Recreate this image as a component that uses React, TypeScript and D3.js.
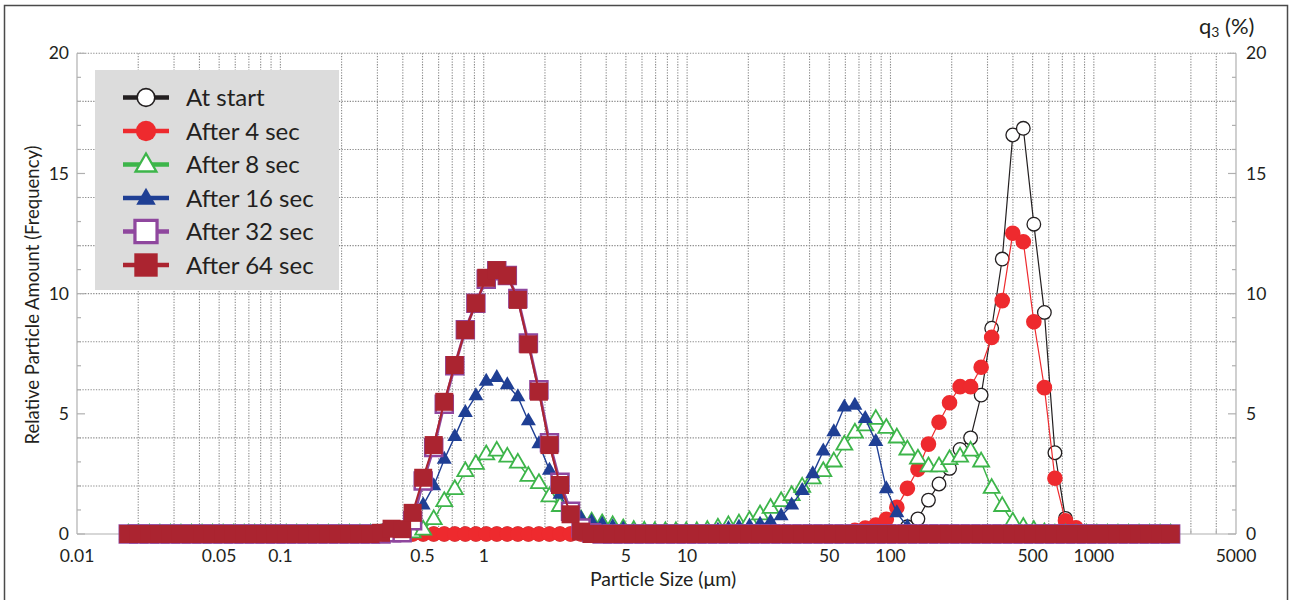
import React from "react";
import * as d3 from "d3";

// particle size classes (µm), shared by every series
const sizeBins = [
  0.01787, 0.02013, 0.02269, 0.02556, 0.0288, 0.03245, 0.03656, 0.04119, 0.04641, 0.05229,
  0.05892, 0.06638, 0.0748, 0.08427, 0.09495, 0.1068, 0.1204, 0.1356, 0.1528, 0.1721,
  0.194, 0.2185, 0.2462, 0.2774, 0.3126, 0.3522, 0.3969, 0.4471, 0.5038, 0.5676,
  0.6396, 0.7206, 0.8119, 0.9148, 1.0287, 1.159, 1.3059, 1.4714, 1.6578, 1.8679,
  2.1046, 2.3713, 2.6718, 3.0104, 3.3919, 3.8217, 4.306, 4.8517, 5.4665, 6.1592,
  6.9397, 7.8191, 8.81, 9.9063, 11.162, 12.575, 14.169, 15.965, 17.988, 20.267,
  22.836, 25.73, 28.991, 32.665, 36.804, 41.468, 46.724, 52.645, 59.316, 66.833,
  75.164, 84.69, 95.4, 107.47, 121.1, 136.44, 153.73, 173.21, 195.16, 219.89,
  247.75, 279.15, 314.52, 354.38, 399.29, 449.88, 506.89, 571.13, 643.5, 725.05,
  816.93, 920.45, 1035, 1166, 1313.7, 1480.2, 1667.8, 1879.1, 2117.2, 2385.4,
];

// q3 (%) per size class
const atStart = [
  0, 0, 0, 0, 0, 0, 0, 0, 0, 0,
  0, 0, 0, 0, 0, 0, 0, 0, 0, 0,
  0, 0, 0, 0, 0, 0, 0, 0, 0, 0,
  0, 0, 0, 0, 0, 0, 0, 0, 0, 0,
  0, 0, 0, 0, 0, 0, 0, 0, 0, 0,
  0, 0, 0, 0, 0, 0, 0, 0, 0, 0,
  0, 0, 0, 0, 0, 0, 0, 0, 0, 0,
  0, 0, 0, 0, 0.3, 0.63, 1.41, 2.08, 2.73, 3.52,
  4.0, 5.78, 8.56, 11.44, 16.6, 16.88, 12.89, 9.22, 3.38, 0.65,
  0.1, 0, 0, 0, 0, 0, 0, 0, 0, 0,
];
const after4 = [
  0, 0, 0, 0, 0, 0, 0, 0, 0, 0,
  0, 0, 0, 0, 0, 0, 0, 0, 0, 0,
  0, 0, 0, 0, 0, 0, 0, 0, 0, 0,
  0, 0, 0, 0, 0, 0, 0, 0, 0, 0,
  0, 0, 0, 0, 0, 0, 0, 0, 0, 0,
  0, 0, 0, 0, 0, 0, 0, 0, 0, 0,
  0, 0, 0, 0, 0, 0, 0, 0, 0, 0.15,
  0.25, 0.37, 0.61, 1.11, 1.9, 2.69, 3.74, 4.65, 5.46, 6.13,
  6.13, 6.94, 8.18, 9.71, 12.51, 12.16, 8.83, 6.09, 2.32, 0.55,
  0.26, 0.05, 0, 0, 0, 0, 0, 0, 0, 0,
];
const after8 = [
  0, 0, 0, 0, 0, 0, 0, 0, 0, 0,
  0, 0, 0, 0, 0, 0, 0, 0, 0, 0,
  0, 0, 0, 0, 0, 0, 0, 0.05, 0.17, 0.6,
  1.35, 1.85, 2.6, 2.9, 3.3, 3.45, 3.2, 2.95, 2.4, 2.1,
  1.55, 1.15, 0.8, 0.58, 0.5, 0.43, 0.35, 0.22, 0.15, 0.12,
  0.1, 0.1, 0.1, 0.1, 0.1, 0.15, 0.25, 0.35, 0.42, 0.55,
  0.8, 1.07, 1.35, 1.6, 1.95, 2.3, 2.6, 3.0, 3.7, 4.2,
  4.5, 4.77, 4.4, 4.0, 3.5, 3.12, 2.8, 2.8, 3.1, 3.2,
  3.45, 3.0, 1.9, 1.15, 0.5, 0.28, 0.15, 0.05, 0, 0,
  0, 0, 0, 0, 0, 0, 0, 0, 0, 0,
];
const after16 = [
  0, 0, 0, 0, 0, 0, 0, 0, 0, 0,
  0, 0, 0, 0, 0, 0, 0, 0, 0, 0,
  0, 0, 0, 0, 0, 0, 0.2, 0.55, 1.2, 2.0,
  3.1, 4.05, 5.05, 5.75, 6.35, 6.5, 6.2, 5.7, 4.7, 3.75,
  2.65, 1.65, 0.85, 0.65, 0.5, 0.4, 0.3, 0.2, 0.1, 0.05,
  0.05, 0.05, 0.05, 0.05, 0.05, 0.08, 0.15, 0.22, 0.28, 0.33,
  0.4, 0.5, 0.75, 1.2, 1.8, 2.5, 3.45, 4.25, 5.28, 5.35,
  4.8, 3.84, 1.88, 0.88, 0.3, 0.05, 0, 0, 0, 0,
  0, 0, 0, 0, 0, 0, 0, 0, 0, 0,
  0, 0, 0, 0, 0, 0, 0, 0, 0, 0,
];
const after32 = [
  0, 0, 0, 0, 0, 0, 0, 0, 0, 0,
  0, 0, 0, 0, 0, 0, 0, 0, 0, 0,
  0, 0, 0, 0, 0, 0.05, 0.05, 0.55, 2.2, 3.6,
  5.4, 7.0, 8.5, 9.6, 10.6, 10.95, 10.75, 9.8, 7.95, 6.0,
  3.8, 2.15, 0.95, 0.25, 0.05, 0, 0, 0, 0, 0,
  0, 0, 0, 0, 0, 0, 0, 0, 0, 0,
  0, 0, 0, 0, 0, 0, 0, 0, 0, 0,
  0, 0, 0, 0, 0, 0, 0, 0, 0, 0,
  0, 0, 0, 0, 0, 0, 0, 0, 0, 0,
  0, 0, 0, 0, 0, 0, 0, 0, 0, 0,
];
const after64 = [
  0, 0, 0, 0, 0, 0, 0, 0, 0, 0,
  0, 0, 0, 0, 0, 0, 0, 0, 0, 0,
  0, 0, 0, 0, 0.05, 0.22, 0.2, 0.88, 2.34, 3.7,
  5.5, 7.03, 8.49, 9.6, 10.66, 10.98, 10.75, 9.74, 7.89, 5.92,
  3.7, 2.04, 0.82, 0.1, 0, 0, 0, 0, 0, 0,
  0, 0, 0, 0, 0, 0, 0, 0, 0, 0,
  0, 0, 0, 0, 0, 0, 0, 0, 0, 0,
  0, 0, 0, 0, 0, 0, 0, 0, 0, 0,
  0, 0, 0, 0, 0, 0, 0, 0, 0, 0,
  0, 0, 0, 0, 0, 0, 0, 0, 0, 0,
];

const seriesNames = ["At start", "After 4 sec", "After 8 sec", "After 16 sec", "After 32 sec", "After 64 sec"];
const xTickValues = [0.01, 0.05, 0.1, 0.5, 1, 5, 10, 50, 100, 500, 1000, 5000];
const yTickValues = [0, 5, 10, 15, 20];

const FONT = "Lato, 'Open Sans', sans-serif";
const TEXT = "#231f20";
const GRID = "#8c8c8c";
const AXIS = "#b0b0b0";

const series = [
  { name: seriesNames[0], values: atStart, color: "#231f20", shape: "circle", filled: false, lw: 1.2, size: 6.8, sw: 1.3 },
  { name: seriesNames[1], values: after4, color: "#ee2a2e", shape: "circle", filled: true, lw: 1.2, size: 7.8, sw: 0 },
  { name: seriesNames[2], values: after8, color: "#3db54a", shape: "triangle", filled: false, lw: 1.4, size: 16, sw: 1.8 },
  { name: seriesNames[3], values: after16, color: "#1f3f94", shape: "triangle", filled: true, lw: 1.4, size: 15, sw: 0 },
  { name: seriesNames[4], values: after32, color: "#8f479e", shape: "square", filled: false, lw: 3, size: 17, sw: 2.5 },
  { name: seriesNames[5], values: after64, color: "#ab2430", shape: "square", filled: true, lw: 2, size: 18, sw: 0 },
];

// size: radius for circles, side for triangles / squares
const markerPath = (shape: string, size: number) => {
  if (shape === "circle") return d3.symbol().type(d3.symbolCircle).size(Math.PI * size * size)()!;
  if (shape === "square") return d3.symbol().type(d3.symbolSquare).size(size * size)()!;
  return d3.symbol().type(d3.symbolTriangle).size((Math.sqrt(3) / 4) * size * size)()!;
};

const Marker = ({ s, cx, cy, scale = 1 }: any) => (
  <path
    d={markerPath(s.shape, s.size * scale)}
    transform={`translate(${cx},${cy})`}
    fill={s.filled ? s.color : "#fff"}
    stroke={s.filled ? "none" : s.color}
    strokeWidth={s.sw * (scale > 1 ? 1.3 : 1)}
  />
);

export default function App() {
  const width = 1290;
  const height = 600;
  const left = 77;
  const right = 1236;
  const top = 53.3;
  const bottom = 534;

  const x = d3.scaleLog().domain([0.01, 5000]).range([left, right]);
  const y = d3.scaleLinear().domain([0, 20]).range([bottom, top]);

  const gridX: number[] = [];
  for (let e = -2; e <= 3; e++) {
    for (let m = 1; m <= 9; m++) {
      const v = +(m * Math.pow(10, e)).toPrecision(3);
      if (v > 0.01 && v < 5000) gridX.push(v);
    }
  }
  const gridY = d3.range(2, 21, 2);
  const minorY = d3.range(0, 21, 1);

  const line = d3
    .line<number>()
    .x((_, i) => x(sizeBins[i]))
    .y((d) => y(d));

  const legendRowY = (i: number) => 97.5 + i * 33.5;

  return (
    <svg
      width={width}
      height={height}
      style={{ position: "absolute", left: 0, top: 0, background: "#fff" }}
      fontFamily={FONT}
    >
      {/* outer frame */}
      <rect x={4.5} y={5.5} width={1283} height={620} fill="none" stroke="#4a4a4a" strokeWidth={1.5} />

      {/* grid */}
      <g stroke={GRID} strokeWidth={1.1} strokeDasharray="1.3 1.4">
        {gridX.map((v) => (
          <line key={"gx" + v} x1={x(v)} x2={x(v)} y1={top} y2={bottom} />
        ))}
        {gridY.map((v) => (
          <line key={"gy" + v} x1={left} x2={right} y1={y(v)} y2={y(v)} />
        ))}
      </g>

      {/* axes frame */}
      <g stroke={AXIS} strokeWidth={1.2}>
        <line x1={left} x2={left} y1={top} y2={bottom} />
        <line x1={right} x2={right} y1={top} y2={bottom} />
        <line x1={left} x2={right} y1={bottom} y2={bottom} />
        {minorY.map((v) => {
          const len = v % 5 === 0 ? 8 : 4;
          return (
            <g key={"ty" + v}>
              <line x1={left} x2={left + len} y1={y(v)} y2={y(v)} />
              <line x1={right - len} x2={right} y1={y(v)} y2={y(v)} />
            </g>
          );
        })}
        {gridX.map((v) => (
          <line key={"tx" + v} x1={x(v)} x2={x(v)} y1={bottom} y2={bottom - 4} />
        ))}
      </g>

      {/* tick labels */}
      <g fontSize={17.5} fill={TEXT}>
        {yTickValues.map((v) => (
          <text key={"yl" + v} x={69} y={y(v)} dy="0.35em" textAnchor="end">
            {v}
          </text>
        ))}
        {yTickValues.map((v) => (
          <text key={"yr" + v} x={1246} y={y(v)} dy="0.35em" textAnchor="start">
            {v}
          </text>
        ))}
        {xTickValues.map((v) => (
          <text key={"xl" + v} x={x(v)} y={562} textAnchor="middle">
            {String(v)}
          </text>
        ))}
      </g>

      {/* axis titles */}
      <text x={663} y={586} textAnchor="middle" fontSize={19.5} fill={TEXT}>
        Particle Size (μm)
      </text>
      <text transform="translate(39,295) rotate(-90)" textAnchor="middle" fontSize={18.5} fill={TEXT}>
        Relative Particle Amount (Frequency)
      </text>
      <text x={1199} y={34} fontSize={22} fill={TEXT}>
        q<tspan fontSize={14} dy={3}>3</tspan>
        <tspan dy={-3}> (%)</tspan>
      </text>

      {/* series */}
      {series.map((s) => (
        <g key={s.name}>
          <path d={line(s.values)!} fill="none" stroke={s.color} strokeWidth={s.lw} />
          {s.values.map((v, i) => (
            <Marker key={i} s={s} cx={x(sizeBins[i])} cy={y(v)} />
          ))}
        </g>
      ))}

      {/* legend */}
      <rect x={95} y={70} width={244} height={220} fill="#dcdcdc" />
      {series.map((s, i) => (
        <g key={"lg" + s.name}>
          <line x1={123} x2={169} y1={legendRowY(i)} y2={legendRowY(i)} stroke={s.color} strokeWidth={4.5} />
          <Marker s={s} cx={146} cy={legendRowY(i) + (s.shape === "triangle" ? 1 : 0)} scale={1.3} />
          <text x={186} y={legendRowY(i)} dy="0.36em" fontSize={24} fill={TEXT}>
            {s.name}
          </text>
        </g>
      ))}
    </svg>
  );
}
